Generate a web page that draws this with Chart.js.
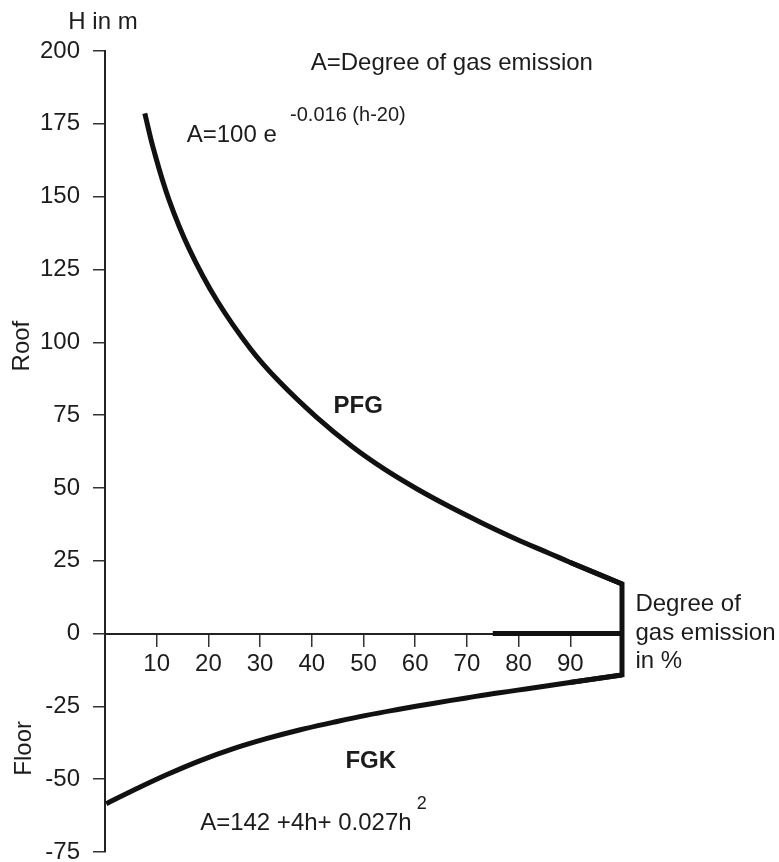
<!DOCTYPE html>
<html>
<head>
<meta charset="utf-8">
<script src="https://cdn.jsdelivr.net/npm/chart.js@4/dist/chart.umd.min.js"></script>
<style>
  html, body { margin: 0; padding: 0; background: #ffffff; }
  #wrap { width: 779px; height: 862px; position: relative; }
</style>
</head>
<body>
<div id="wrap"><canvas id="c" width="779" height="862"></canvas></div>
<script>
// ---- Data ----
// PFG (roof) curve: degree of gas emission (%) vs height H (m)
const pfgX = [7.7, 9.4, 12.4, 16.3, 21.6, 28.2, 33.7, 40.9, 47.8, 53.9, 60.2, 66.6, 73.0, 79.6, 86.0, 89.9, 100];
const pfgY = [178.6, 166.2, 148.8, 132.0, 114.5, 97.6, 86.5, 74.3, 64.2, 56.6, 49.8, 43.6, 37.9, 32.4, 27.5, 24.5, 17.0];
// FGK (floor) curve
const fgkX = [0.25, 5.4, 11.9, 18.3, 24.7, 31.2, 37.6, 44.1, 50.5, 56.9, 63.4, 69.9, 76.3, 82.7, 89.9, 100];
const fgkY = [-58.4, -53.9, -48.5, -43.7, -39.6, -36.1, -33.1, -30.5, -28.1, -26.0, -24.0, -22.1, -20.3, -18.7, -16.8, -14.2];
// thick segment on the zero line
const baseX = [75, 100];
const baseY = [0, 0];
// tick labels
const xTickValues = [10, 20, 30, 40, 50, 60, 70, 80, 90];
const yTickValues = [-75, -50, -25, 0, 25, 50, 75, 100, 125, 150, 175, 200];

const FONT = '"Liberation Sans", Arial, Helvetica, sans-serif';
const INK = '#1c1c1c';

const toPts = (xs, ys) => xs.map((v, i) => ({ x: v, y: ys[i] }));
const pfgPts = toPts(pfgX, pfgY);
const fgkPts = toPts(fgkX, fgkY);
// closing frame at 100 %: last segment of PFG, vertical edge, last segment of FGK
const framePts = [pfgPts[pfgPts.length - 2], pfgPts[pfgPts.length - 1],
                  fgkPts[fgkPts.length - 1], fgkPts[fgkPts.length - 2]];

// ---- Text annotations (anchored in data units) ----
const notes = [
  { text: 'H in m', x: -7.1, y: 207.7, size: 24 },
  { text: 'A=Degree of gas emission', x: 39.8, y: 193.5, size: 24 },
  { text: 'A=100 e', x: 15.8, y: 168.8, size: 24 },
  { text: '-0.016 (h-20)', x: 35.8, y: 176.0, size: 20 },
  { text: 'PFG', x: 44.2, y: 75.7, size: 24, bold: true },
  { text: 'FGK', x: 46.5, y: -46.2, size: 24, bold: true },
  { text: 'A=142 +4h+ 0.027h', x: 18.4, y: -67.5, size: 24 },
  { text: '2', x: 60.3, y: -60.4, size: 18 },
  { text: 'Degree of', x: 102.6, y: 7.8, size: 24 },
  { text: 'gas emission', x: 102.6, y: -2.2, size: 24 },
  { text: 'in %', x: 102.6, y: -11.7, size: 24 },
  { text: 'Roof', x: -14.7, y: 98.7, size: 24, rot: true },
  { text: 'Floor', x: -14.3, y: -39.4, size: 24, rot: true }
];

const notesPlugin = {
  id: 'notes',
  afterDraw(chart) {
    const { ctx } = chart;
    const xs = chart.scales.x, ys = chart.scales.y;
    ctx.save();
    ctx.fillStyle = INK;
    ctx.textBaseline = 'alphabetic';
    notes.forEach(n => {
      const px = xs.getPixelForValue(n.x);
      const py = ys.getPixelForValue(n.y);
      ctx.save();
      ctx.font = (n.bold ? 'bold ' : '') + n.size + 'px ' + FONT;
      ctx.translate(px, py);
      if (n.rot) {
        ctx.rotate(-Math.PI / 2);
        ctx.textAlign = 'center';
      } else {
        ctx.textAlign = 'left';
      }
      ctx.fillText(n.text, 0, 0);
      ctx.restore();
    });
    ctx.restore();
  }
};

const lineStyle = {
  showLine: true,
  pointRadius: 0,
  pointHoverRadius: 0,
  borderColor: '#111111',
  backgroundColor: '#111111',
  fill: false,
  clip: false
};

new Chart(document.getElementById('c'), {
  type: 'scatter',
  data: {
    datasets: [
      Object.assign({ label: 'PFG', data: pfgPts, borderWidth: 5, tension: 0.4 }, lineStyle),
      Object.assign({ label: 'FGK', data: fgkPts, borderWidth: 5, tension: 0.4 }, lineStyle),
      Object.assign({ label: 'frame', data: framePts, borderWidth: 5, tension: 0, borderJoinStyle: 'miter' }, lineStyle),
      Object.assign({ label: 'base', data: toPts(baseX, baseY), borderWidth: 5, tension: 0 }, lineStyle)
    ]
  },
  options: {
    responsive: false,
    animation: false,
    devicePixelRatio: 1,
    layout: { padding: { top: 51, right: 157, bottom: 10, left: 0 } },
    plugins: { legend: { display: false }, tooltip: { enabled: false }, title: { display: false } },
    scales: {
      x: {
        type: 'linear',
        min: 0,
        max: 100,
        position: { y: 0 },
        grid: { display: true, drawOnChartArea: false, drawTicks: true, tickLength: 12, color: '#333333', lineWidth: 1.5 },
        border: { display: true, color: '#222222', width: 2 },
        ticks: { font: { size: 24, family: FONT }, color: INK, padding: 4, maxRotation: 0, autoSkip: false },
        afterBuildTicks: s => { s.ticks = xTickValues.map(v => ({ value: v })); },
        afterFit: s => { s.paddingLeft = 0; s.paddingRight = 0; s.paddingTop = 0; s.paddingBottom = 0; }
      },
      y: {
        type: 'linear',
        min: -75,
        max: 200,
        position: 'left',
        grid: { display: true, drawOnChartArea: false, drawTicks: true, tickLength: 12, color: '#333333', lineWidth: 1.5 },
        border: { display: true, color: '#222222', width: 2 },
        ticks: { font: { size: 24, family: FONT }, color: INK, padding: 13, autoSkip: false },
        afterBuildTicks: s => { s.ticks = yTickValues.map(v => ({ value: v })); },
        afterFit: s => { s.width = 105; s.paddingTop = 0; s.paddingBottom = 0; }
      }
    }
  },
  plugins: [notesPlugin]
});
</script>
</body>
</html>
